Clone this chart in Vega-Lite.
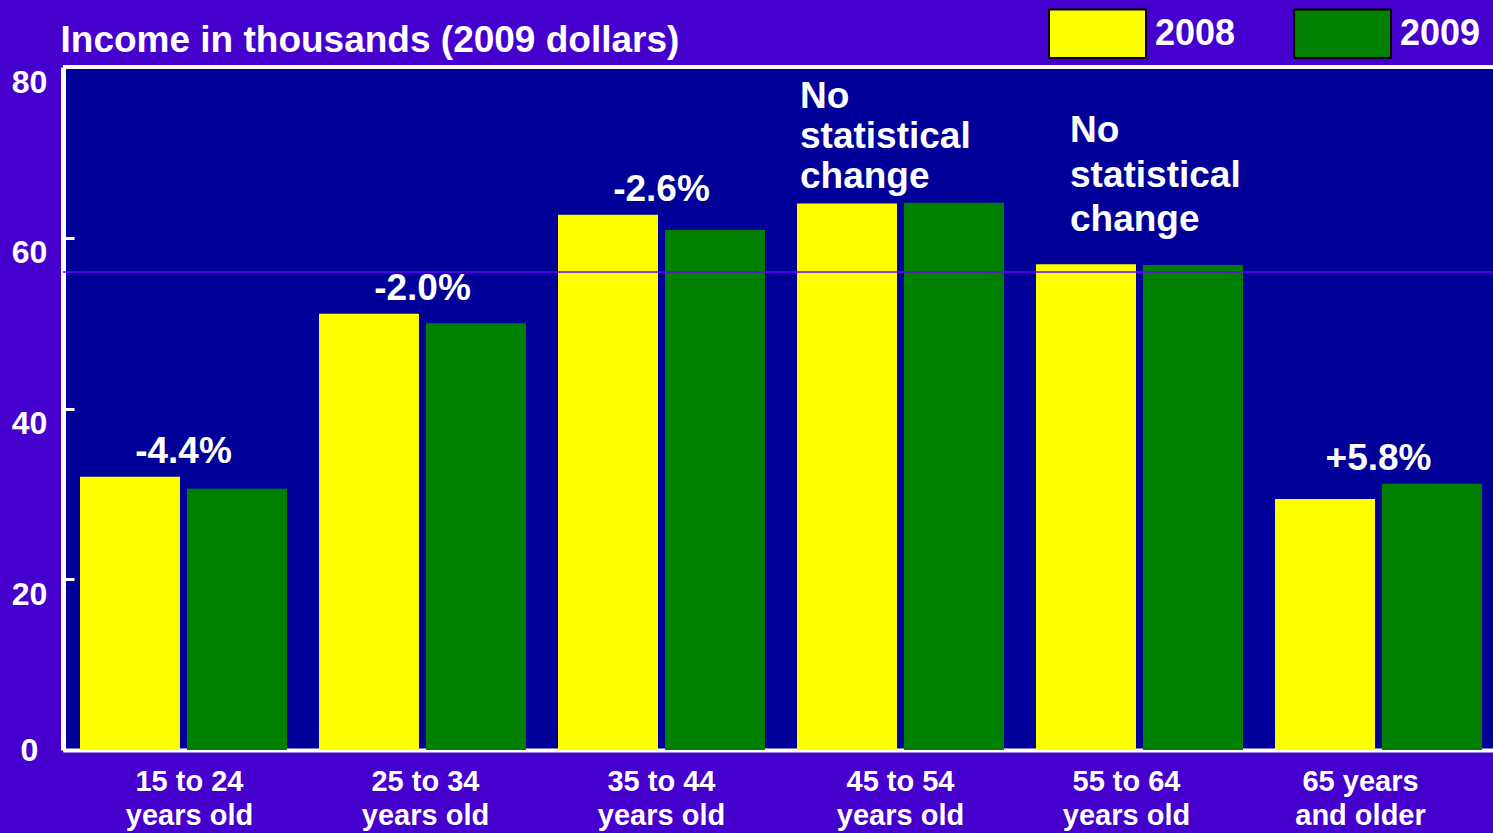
{
  "$schema": "https://vega.github.io/schema/vega-lite/v6.json",
  "width": 1430,
  "height": 683,
  "autosize": {"type": "none"},
  "padding": {"left": 63, "top": 67, "right": 0, "bottom": 83},
  "background": "#4600CE",
  "config": {
    "view": {"fill": "#000099", "stroke": null},
    "font": "Liberation Sans",
    "axis": {"grid": false, "title": null, "zindex": 1}
  },
  "datasets": {
    "bars": [
      {"age": "15 to 24 years old", "year": "2008", "income": 32.0},
      {"age": "15 to 24 years old", "year": "2009", "income": 30.6},
      {"age": "25 to 34 years old", "year": "2008", "income": 51.1},
      {"age": "25 to 34 years old", "year": "2009", "income": 50.0},
      {"age": "35 to 44 years old", "year": "2008", "income": 62.7},
      {"age": "35 to 44 years old", "year": "2009", "income": 60.9},
      {"age": "45 to 54 years old", "year": "2008", "income": 64.0},
      {"age": "45 to 54 years old", "year": "2009", "income": 64.1},
      {"age": "55 to 64 years old", "year": "2008", "income": 56.9},
      {"age": "55 to 64 years old", "year": "2009", "income": 56.8},
      {"age": "65 years and older", "year": "2008", "income": 29.4},
      {"age": "65 years and older", "year": "2009", "income": 31.2}
    ],
    "notes": [
      {"age": "15 to 24 years old", "kind": "pct", "note": "-4.4%"},
      {"age": "25 to 34 years old", "kind": "pct", "note": "-2.0%"},
      {"age": "35 to 44 years old", "kind": "pct", "note": "-2.6%"},
      {"age": "45 to 54 years old", "kind": "nsc", "note": ["No", "statistical", "change"]},
      {"age": "55 to 64 years old", "kind": "nsc", "note": ["No", "statistical", "change"]},
      {"age": "65 years and older", "kind": "pct", "note": "+5.8%"}
    ],
    "frame": [{"edge": "top", "level": 80}],
    "stripe": [{"level": 56}]
  },
  "layer": [
    {
      "data": {"name": "bars"},
      "mark": {"type": "bar"},
      "encoding": {
        "x": {
          "field": "age",
          "type": "nominal",
          "sort": null,
          "scale": {
            "domain": ["15 to 24 years old", "25 to 34 years old", "35 to 44 years old", "45 to 54 years old", "55 to 64 years old", "65 years and older"],
            "paddingInner": 0.134,
            "paddingOuter": 0.0586,
            "align": 0.607
          },
          "axis": {
            "domainColor": "white",
            "domainWidth": 4,
            "ticks": false,
            "labelColor": "white",
            "labelFontSize": 29,
            "labelFontWeight": "bold",
            "labelFont": "Liberation Sans",
            "labelAngle": 0,
            "labelPadding": 17,
            "labelLineHeight": 34,
            "labelBaseline": "top",
            "labelOffset": {
              "condition": [
                {"test": "datum.value == '15 to 24 years old'", "value": 6},
                {"test": "datum.value == '25 to 34 years old'", "value": 3},
                {"test": "datum.value == '55 to 64 years old'", "value": -13},
                {"test": "datum.value == '65 years and older'", "value": -18}
              ],
              "value": 0
            },
            "labelExpr": "datum.label == '65 years and older' ? ['65 years', 'and older'] : [slice(datum.label, 0, 8), 'years old']"
          }
        },
        "xOffset": {"field": "year", "type": "nominal", "scale": {"paddingInner": 0.0654}},
        "y": {
          "field": "income",
          "type": "quantitative",
          "scale": {"domain": [0, 80]},
          "axis": {
            "values": [0, 20, 40, 60, 80],
            "title": "Income in thousands (2009 dollars)",
            "titleAngle": 0,
            "titleAlign": "left",
            "titleBaseline": "alphabetic",
            "titleX": -3,
            "titleY": -16,
            "titleFontSize": 37,
            "titleFontWeight": "bold",
            "titleFont": "Liberation Sans",
            "titleColor": "white",
            "domainColor": "white",
            "domainWidth": 5,
            "tickColor": "white",
            "tickWidth": 3,
            "tickSize": -11,
            "labelColor": "white",
            "labelFontSize": 32,
            "labelFontWeight": "bold",
            "labelFont": "Liberation Sans",
            "labelAlign": "center",
            "labelPadding": 45,
            "labelOffset": {"condition": {"test": "datum.value == 0", "value": 0}, "value": 15}
          }
        },
        "color": {
          "field": "year",
          "type": "nominal",
          "scale": {"domain": ["2008", "2009"], "range": ["#FFFF00", "#008000"]},
          "legend": {
            "orient": "none",
            "legendX": 985,
            "legendY": -83,
            "direction": "horizontal",
            "title": null,
            "symbolType": "M-1,-0.5H1V0.5H-1Z",
            "symbolSize": 9409,
            "symbolStrokeColor": "black",
            "symbolStrokeWidth": 2,
            "symbolOpacity": 1,
            "labelFontSize": 36,
            "labelColor": "white",
            "labelFont": "Liberation Sans",
            "labelFontWeight": "bold",
            "labelOffset": 8,
            "columnPadding": 54
          }
        }
      }
    },
    {
      "data": {"name": "frame"},
      "mark": {"type": "rule", "color": "white", "strokeWidth": 4},
      "encoding": {"y": {"field": "level", "type": "quantitative"}}
    },
    {
      "data": {"name": "stripe"},
      "mark": {"type": "rule", "color": "#6A00FF", "strokeWidth": 1.5},
      "encoding": {"y": {"field": "level", "type": "quantitative"}}
    },
    {
      "data": {"name": "bars"},
      "transform": [
        {"aggregate": [{"op": "max", "field": "income", "as": "top"}], "groupby": ["age"]},
        {"lookup": "age", "from": {"data": {"name": "notes"}, "key": "age", "fields": ["note", "kind"]}},
        {"filter": "datum.kind == 'pct'"}
      ],
      "mark": {"type": "text", "color": "white", "font": "Liberation Sans", "fontSize": 37, "fontWeight": "bold", "baseline": "alphabetic", "align": "center", "dy": -14},
      "encoding": {
        "x": {"field": "age", "type": "nominal", "sort": null},
        "y": {"field": "top", "type": "quantitative"},
        "text": {"field": "note"}
      }
    },
    {
      "data": {"name": "bars"},
      "transform": [
        {"aggregate": [{"op": "max", "field": "income", "as": "top"}], "groupby": ["age"]},
        {"lookup": "age", "from": {"data": {"name": "notes"}, "key": "age", "fields": ["note", "kind"]}},
        {"filter": "datum.age == '45 to 54 years old'"}
      ],
      "mark": {"type": "text", "color": "white", "font": "Liberation Sans", "fontSize": 37, "fontWeight": "bold", "baseline": "alphabetic", "align": "left", "dx": 3, "dy": -95, "lineHeight": 40},
      "encoding": {
        "x": {"field": "age", "type": "nominal", "sort": null, "bandPosition": 0},
        "y": {"field": "top", "type": "quantitative"},
        "text": {"field": "note"}
      }
    },
    {
      "data": {"name": "bars"},
      "transform": [
        {"aggregate": [{"op": "max", "field": "income", "as": "top"}], "groupby": ["age"]},
        {"lookup": "age", "from": {"data": {"name": "notes"}, "key": "age", "fields": ["note", "kind"]}},
        {"filter": "datum.age == '55 to 64 years old'"}
      ],
      "mark": {"type": "text", "color": "white", "font": "Liberation Sans", "fontSize": 37, "fontWeight": "bold", "baseline": "alphabetic", "align": "left", "dx": 34, "dy": -122, "lineHeight": 44.5},
      "encoding": {
        "x": {"field": "age", "type": "nominal", "sort": null, "bandPosition": 0},
        "y": {"field": "top", "type": "quantitative"},
        "text": {"field": "note"}
      }
    }
  ]
}
